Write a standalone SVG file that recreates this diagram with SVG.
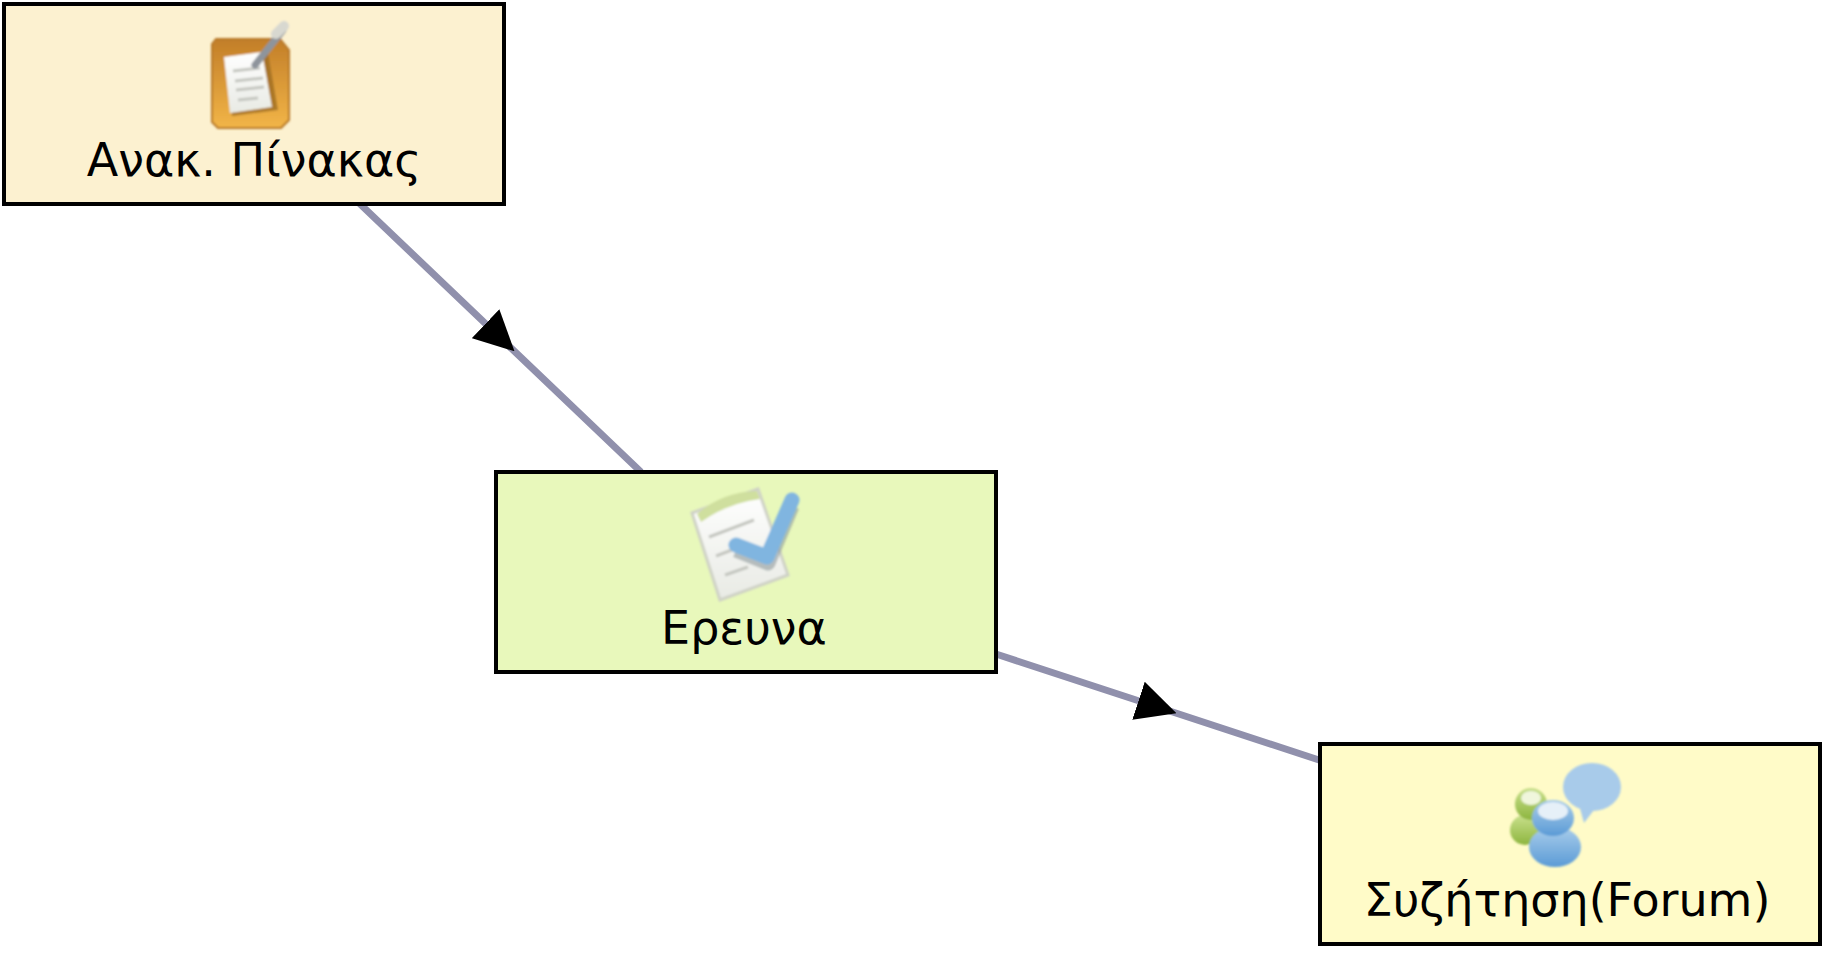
<svg xmlns="http://www.w3.org/2000/svg" width="1840" height="964" viewBox="0 0 1840 964">
<style>
.box{stroke:#000;stroke-width:4}
.label{font-family:"DejaVu Sans","Noto Sans",sans-serif;font-size:46px;fill:#000;text-anchor:middle}
.edge{fill:none;stroke:#9090ac;stroke-width:7;marker-mid:url(#arrow)}
.pl{fill:none;stroke:#c4c6c0;stroke-width:3}
</style>
<defs>
<marker id="arrow" markerUnits="userSpaceOnUse" markerWidth="40" markerHeight="40" refX="20" refY="20" orient="auto" viewBox="0 0 40 40"><path d="M0 0L40 20L0 40Z" fill="#000"/></marker>
<filter id="soft" x="-15%" y="-15%" width="130%" height="130%"><feGaussianBlur stdDeviation="1.1"/></filter>
<linearGradient id="board" x1="0" y1="0" x2="0" y2="1"><stop offset="0" stop-color="#c27e28"/><stop offset="1" stop-color="#f2b548"/></linearGradient>
<linearGradient id="paper" x1="0" y1="0" x2="0" y2="1"><stop offset="0" stop-color="#ffffff"/><stop offset="1" stop-color="#e8eae4"/></linearGradient>
<linearGradient id="blue" x1="0" y1="0" x2="0" y2="1"><stop offset="0" stop-color="#a9cdea"/><stop offset="1" stop-color="#5b9bd6"/></linearGradient>
<linearGradient id="green" x1="0" y1="0" x2="0" y2="1"><stop offset="0" stop-color="#c9e08c"/><stop offset="1" stop-color="#8db53f"/></linearGradient>
</defs>
<g id="connectors">
<polyline class="edge" points="359,203 500,337.5 641,472"/>
<polyline class="edge" points="996,654 1157.5,707 1319,760"/>
</g>
<g id="node-board">
<rect class="box" x="4" y="4" width="500" height="200" fill="#fcf1d0"/>
<g filter="url(#soft)">
<path d="M216 39H280L289 50V120L281 128H218L212 122V44Z" fill="url(#board)" stroke="#b8792a" stroke-width="2"/>
<polygon points="227,59 268,53 278,110 232,116" fill="#9a6a22" opacity=".75"/>
<polygon points="224,57 262,52 272,107 230,113" fill="url(#paper)"/>
<path class="pl" d="M233 71L260 68M235 81L263 78M236 90L264 87M238 100L258 98" stroke-width="1.5"/>
<path d="M255 65L283 30" stroke="#8e949c" stroke-width="7" stroke-linecap="round" fill="none"/>
<path d="M276 34L284 26" stroke="#d8d8d0" stroke-width="10" stroke-linecap="round" fill="none"/>
</g>
<text class="label" x="254" y="176">Ανακ. Πίνακας</text>
</g>
<g id="node-survey">
<rect class="box" x="496" y="472" width="500" height="200" fill="#e8f8bb"/>
<g filter="url(#soft)">
<polygon points="692,513 758,489 788,575 720,600" fill="url(#paper)" stroke="#cfd2c6" stroke-width="3"/>
<path d="M697 514Q722 492 757 491L760 499Q728 503 701 522Z" fill="#cfdf9e"/>
<path class="pl" d="M709 537L754 520M716 556L745 545M725 575L748 567"/>
<path d="M736 547L768 560L792 503" fill="none" stroke="#8e9a9c" stroke-width="15" stroke-linejoin="round" transform="translate(0,3)" opacity=".6"/>
<path d="M736 545L767 557L792 500" fill="none" stroke="#80b5e0" stroke-width="15" stroke-linejoin="round" stroke-linecap="round"/>
</g>
<text class="label" x="744" y="644">Ερευνα</text>
</g>
<g id="node-forum">
<rect class="box" x="1320" y="744" width="500" height="200" fill="#fffbc8"/>
<g filter="url(#soft)">
<ellipse cx="1592" cy="787" rx="29" ry="24" fill="#a8cbea"/>
<path d="M1579 805L1584 823L1597 806Z" fill="#a8cbea"/>
<ellipse cx="1525" cy="830" rx="15" ry="15" fill="url(#green)"/>
<ellipse cx="1531" cy="804" rx="16" ry="16" fill="url(#green)"/>
<ellipse cx="1531" cy="798" rx="10" ry="7" fill="#f0f6dc"/>
<ellipse cx="1555" cy="847" rx="26" ry="20" fill="url(#blue)"/>
<ellipse cx="1553" cy="818" rx="21" ry="18" fill="url(#blue)"/>
<ellipse cx="1553" cy="811" rx="15" ry="9" fill="#e6f0f8"/>
</g>
<text class="label" x="1567" y="916">Συζήτηση(Forum)</text>
</g>
</svg>
